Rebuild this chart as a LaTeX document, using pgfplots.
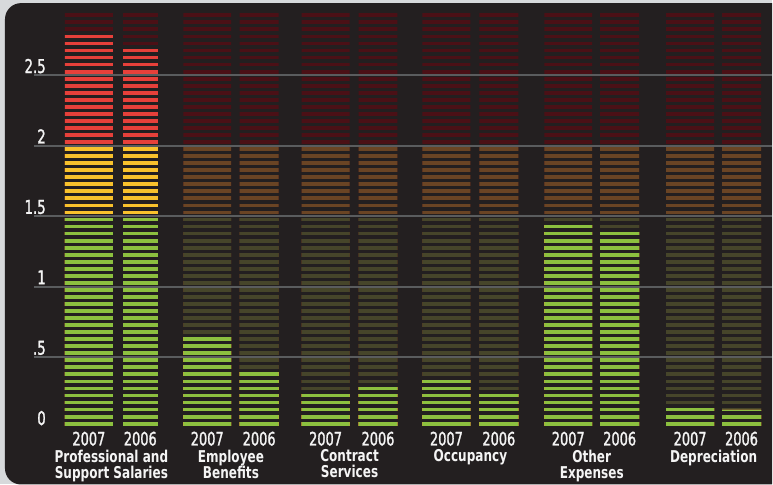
\documentclass[border=0pt]{standalone}
\usepackage{pgfplots}
\pgfplotsset{compat=1.18}
\usepackage{pgfplotstable}
\usepackage{fontspec}
\setmainfont{DejaVu Sans}[FakeStretch=0.7, FakeBold=1.4]
\newfontfamily\catfont{DejaVu Sans}[FakeStretch=0.74]

\definecolor{outergray}{HTML}{D7D9DB}
\definecolor{panel}{HTML}{231F20}
\definecolor{gridgray}{HTML}{5A5C5E}
\definecolor{labelwhite}{HTML}{F4F4F4}
\definecolor{litgreen}{HTML}{8CC03F}
\definecolor{lityellow}{HTML}{F8C12C}
\definecolor{litred}{HTML}{E6403A}
\definecolor{dimgreen}{HTML}{46452A}
\definecolor{dimorange}{HTML}{6A4424}
\definecolor{dimred}{HTML}{4B1016}

% bar centres in px, values read off the meters
\pgfplotstableread{
x      v
89     2.80
207.5  0.65
326    0.25
447    0.35
569    1.45
691    0.15
}\yrseven
\pgfplotstableread{
x      v
259.5  0.40
378.5  0.30
499.5  0.25
620.5  1.40
742.5  0.125
}\yrsix
% the first 2006 bar is a little narrower
\pgfplotstableread{
x      v
140.5  2.70
}\yrsixnarrow

\pgfplotsset{meter/.style={ybar, bar shift=0pt, draw=none, fill=#1}}

\begin{document}
\begin{tikzpicture}
\begin{axis}[
  scale only axis, width=739bp, height=428bp,
  xmin=34, xmax=773, ymin=0, ymax=3.0355,
  clip=false, axis on top,
  axis line style={draw=none}, major tick length=0pt,
  ytick={0.5,1,1.5,2,2.5}, yticklabels={.5,1,1.5,2,2.5},
  extra y ticks={0}, extra y tick labels={0}, extra y tick style={grid=none},
  ymajorgrids, major grid style={draw=gridgray, line width=2bp},
  yticklabel style={anchor=base east, inner sep=0pt, xshift=12bp, yshift=2.5bp,
    font=\fontsize{19bp}{19bp}\selectfont, text=labelwhite},
  xtick={89,140.5,207.5,259.5,326,378.5,447,499.5,569,620.5,691,742.5},
  xticklabels={2007,2006,2007,2006,2007,2006,2007,2006,2007,2006,2007,2006},
  xticklabel style={anchor=north, inner sep=0pt, yshift=-4bp,
    font=\fontsize{18.5bp}{18.5bp}\selectfont, text=labelwhite},
  extra x ticks={111.5,231.25,350,471,592.5,714.5},
  extra x tick labels={Professional and\\Support Salaries, Employee\\Benefits,
    Contract\\Services, Occupancy, Other\\Expenses, Depreciation},
  extra x tick style={grid=none, xticklabel style={yshift=-18bp, align=center,
    font=\catfont\bfseries\fontsize{16.3bp}{16bp}\selectfont}},
]
% frame
\fill[outergray] (axis cs:0,-0.4043) rectangle (axis cs:773,3.0355);
\fill[panel] (axis cs:773,3.014) [rounded corners=16bp] -- (axis cs:5,3.014)
  -- (axis cs:5,-0.4043) [sharp corners] -- (axis cs:773,-0.4043) -- cycle;

% empty meter tracks
\addplot[meter=dimred, bar width=48] table[x=x, y expr=2.95] {\yrseven};
\addplot[meter=dimorange, bar width=48] table[x=x, y expr=2.0] {\yrseven};
\addplot[meter=dimgreen, bar width=48] table[x=x, y expr=1.5] {\yrseven};
\addplot[meter=dimred, bar width=39] table[x=x, y expr=2.95] {\yrsix};
\addplot[meter=dimorange, bar width=39] table[x=x, y expr=2.0] {\yrsix};
\addplot[meter=dimgreen, bar width=39] table[x=x, y expr=1.5] {\yrsix};
\addplot[meter=dimred, bar width=35] table[x=x, y expr=2.95] {\yrsixnarrow};
\addplot[meter=dimorange, bar width=35] table[x=x, y expr=2.0] {\yrsixnarrow};
\addplot[meter=dimgreen, bar width=35] table[x=x, y expr=1.5] {\yrsixnarrow};

% lit segments
\addplot[meter=litred, bar width=48] table[x=x, y=v] {\yrseven};
\addplot[meter=lityellow, bar width=48] table[x=x, y expr={min(\thisrow{v},2)}] {\yrseven};
\addplot[meter=litgreen, bar width=48] table[x=x, y expr={min(\thisrow{v},1.5)}] {\yrseven};
\addplot[meter=litred, bar width=39] table[x=x, y=v] {\yrsix};
\addplot[meter=lityellow, bar width=39] table[x=x, y expr={min(\thisrow{v},2)}] {\yrsix};
\addplot[meter=litgreen, bar width=39] table[x=x, y expr={min(\thisrow{v},1.5)}] {\yrsix};
\addplot[meter=litred, bar width=35] table[x=x, y=v] {\yrsixnarrow};
\addplot[meter=lityellow, bar width=35] table[x=x, y expr={min(\thisrow{v},2)}] {\yrsixnarrow};
\addplot[meter=litgreen, bar width=35] table[x=x, y expr={min(\thisrow{v},1.5)}] {\yrsixnarrow};

% gaps between the LED stripes
\fill[panel] (axis cs:55,-0.01) rectangle (axis cs:770,0.014);
\pgfplotsinvokeforeach{0,...,58}{
  \fill[panel] (axis cs:55,{0.041+0.05*#1}) rectangle (axis cs:770,{0.064+0.05*#1});
}
\end{axis}
\end{tikzpicture}
\end{document}
